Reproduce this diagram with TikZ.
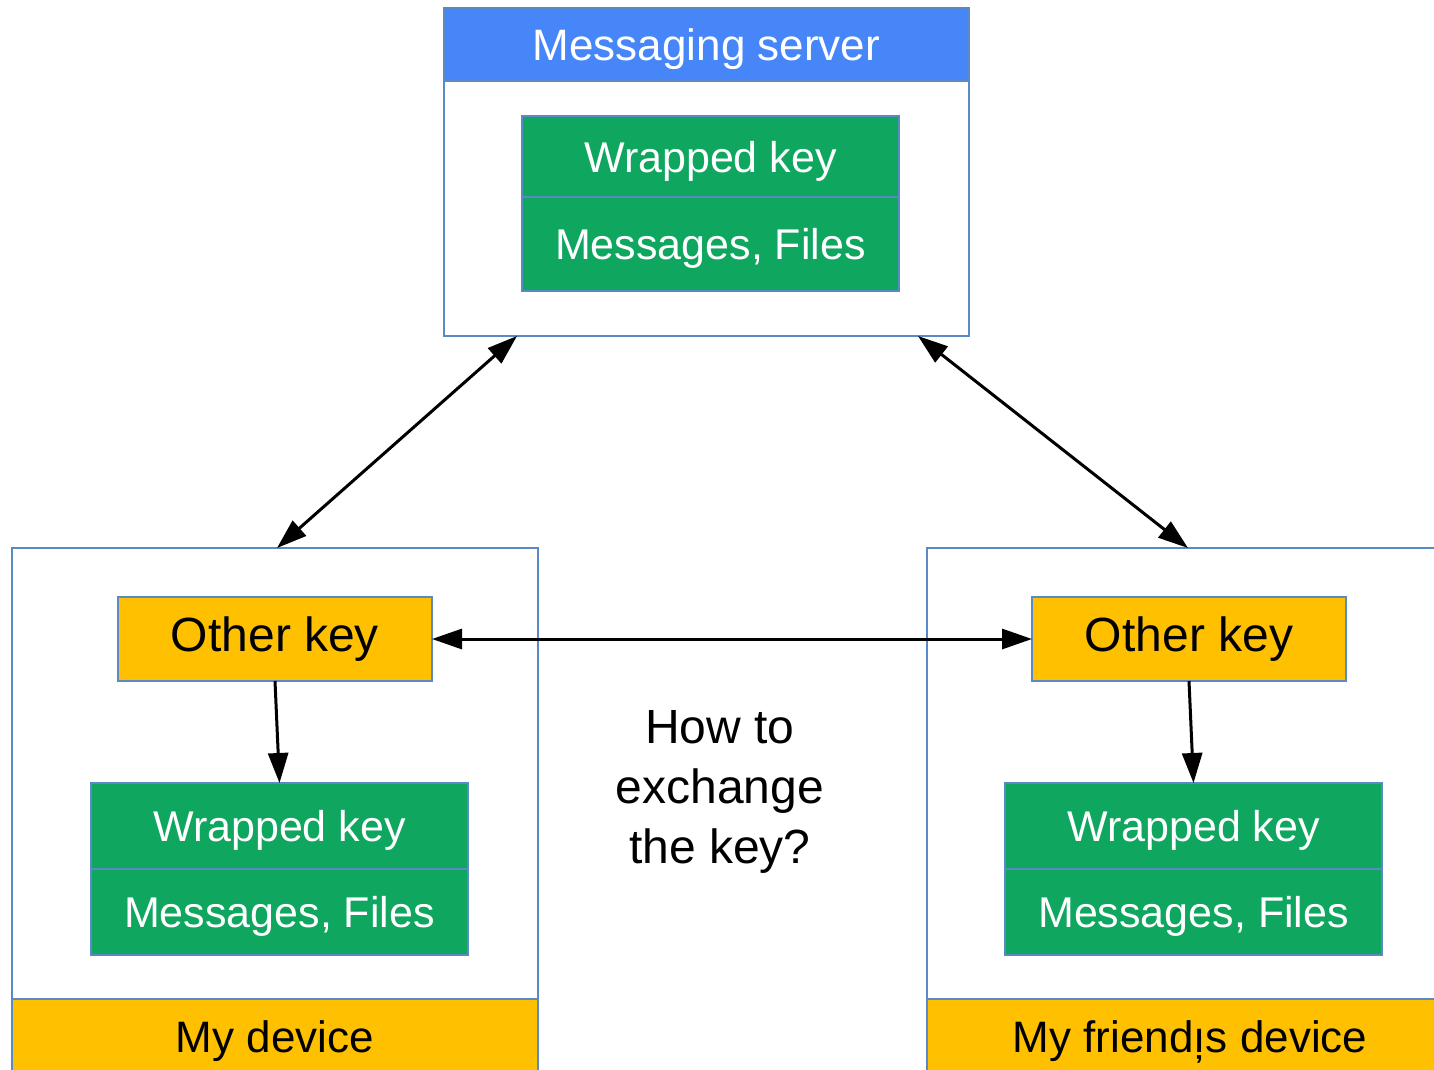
\documentclass[tikz,border=0pt]{standalone}
\usepackage{fontspec}
\setmainfont{Liberation Sans}
\usetikzlibrary{arrows.meta,positioning}

\definecolor{edge}{HTML}{5A8AC6}
\definecolor{srvblue}{HTML}{4686F8}
\definecolor{keygreen}{HTML}{0FA75F}
\definecolor{keyyellow}{HTML}{FFC000}

\tikzset{
  box/.style={draw=edge, line width=2.5pt, inner sep=0pt, anchor=north west, outer sep=0pt},
  frame/.style={box, fill=white},
  lowtext/.style={text depth=0pt},
  header/.style={box, lowtext, fill=srvblue, text=white, font=\fontsize{44pt}{52pt}\selectfont},
  footer/.style={box, lowtext, fill=keyyellow, text=black, font=\fontsize{44pt}{52pt}\selectfont},
  greenbox/.style={box, lowtext, fill=keygreen, text=white, minimum width=377pt, font=\fontsize{43pt}{52pt}\selectfont},
  otherkey/.style={box, fill=keyyellow, text=black, minimum width=314pt, minimum height=84pt, font=\fontsize{48pt}{56pt}\selectfont},
  link/.style={line width=3pt, draw=black, {Triangle[length=30pt,width=20pt]}-{Triangle[length=30pt,width=20pt]}},
  down/.style={line width=3pt, draw=black, -{Triangle[length=30pt,width=20pt]}}
}

\begin{document}
\begin{tikzpicture}[x=1pt, y=-1pt]
  \useasboundingbox (0,0) rectangle (1434,1069);
  \clip (0,0) rectangle (1434,1069);
  \fill[white] (0,0) rectangle (1434,1069);

  % messaging server
  \node[frame, minimum width=525pt, minimum height=328pt] (server) at (444,8) {};
  \node[header, minimum width=525pt, minimum height=73pt] (serverhead) at (444,8) {Messaging server};
  \node[greenbox, minimum height=81pt] (swk) at (522,116) {Wrapped key};
  \node[greenbox, minimum height=94pt] (smf) at (522,197) {Messages, Files};

  % my device
  \node[frame, minimum width=526pt, minimum height=560pt] (mine) at (12,548) {};
  \node[footer, minimum width=526pt, minimum height=76pt] (minefoot) at (12,999) {My device};
  \node[otherkey] (mkey) at (118,597) {Other key};
  \node[greenbox, minimum height=86pt] (mwk) at (91,783) {Wrapped key};
  \node[greenbox, minimum height=86pt] (mmf) at (91,869) {Messages, Files};

  % friend's device
  \node[frame, minimum width=526pt, minimum height=560pt] (friend) at (927,548) {};
  \node[footer, minimum width=526pt, minimum height=76pt] (friendfoot) at (927,999) {My friendı̦s device};
  \node[otherkey] (fkey) at (1032,597) {Other key};
  \node[greenbox, minimum height=86pt] (fwk) at (1005,783) {Wrapped key};
  \node[greenbox, minimum height=86pt] (fmf) at (1005,869) {Messages, Files};

  % question
  \node[align=center, font=\fontsize{48pt}{60pt}\selectfont] (question) at (720,792) {How to\\exchange\\the key?};

  % connector ends on the server's lower edge
  \coordinate (srvL) at ([xshift=73pt]server.south west);
  \coordinate (srvR) at ([xshift=-51pt]server.south east);
  \coordinate (mineTop) at ([xshift=2pt]mine.north);
  \coordinate (friendTop) at ([xshift=-2pt]friend.north);

  \draw[link] (srvL) -- (mineTop);
  \draw[link] (srvR) -- (friendTop);
  \draw[link] (mkey.east) -- (fkey.west);
  \draw[down] (mkey.south) -- (mwk.north);
  \draw[down] (fkey.south) -- (fwk.north);
\end{tikzpicture}
\end{document}
